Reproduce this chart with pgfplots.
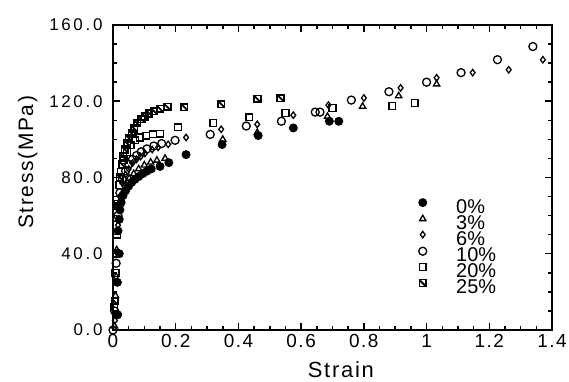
\documentclass[border=0pt]{standalone}
\usepackage{pgfplots}
\pgfplotsset{compat=1.18}
\usepackage{fontspec}
\setmainfont{Liberation Sans}
\newfontfamily\ytickfont[LetterSpace=16]{Liberation Sans}
\newfontfamily\xtickfont[LetterSpace=8]{Liberation Sans}
\newfontfamily\labfont[LetterSpace=8]{Liberation Sans}

\pgfdeclareplotmark{hsquare}{%
  \pgfpathrectangle{\pgfqpoint{-\pgfplotmarksize}{-\pgfplotmarksize}}{\pgfqpoint{2\pgfplotmarksize}{2\pgfplotmarksize}}%
  \pgfusepathqstroke
  \pgfsetlinewidth{1.8bp}%
  \pgfpathmoveto{\pgfqpoint{-0.8\pgfplotmarksize}{0.8\pgfplotmarksize}}%
  \pgfpathlineto{\pgfqpoint{0.8\pgfplotmarksize}{-0.8\pgfplotmarksize}}%
  \pgfusepathqstroke
}

\pgfplotstableread{
x y
0.015 8
0.014 25
0.020 40
0.016 52
0.020 58
0.022 63
0.026 67
0.032 70.5
0.040 73
0.050 75.5
0.060 77.5
0.070 79
0.082 80.5
0.095 82
0.108 83.3
0.122 84.5
0.150 85.8
0.178 87.8
0.233 92
0.348 97.3
0.463 102
0.575 106
0.690 109.5
0.720 109.5
}\dA

\pgfplotstableread{
x y
0.005 2
0.008 18
0.012 42
0.016 58
0.022 66
0.030 72
0.040 76.5
0.052 79.5
0.066 82
0.082 84.5
0.100 86.5
0.120 88
0.140 89
0.166 90
0.350 100
0.460 103.5
0.684 112
0.796 117.3
0.911 122.8
1.032 129
}\dB

\pgfplotstableread{
x y
0.006 5
0.010 28
0.016 55
0.022 70
0.030 77
0.040 81.5
0.050 84.5
0.062 87.5
0.075 89.5
0.088 91
0.102 92.6
0.125 94.7
0.144 95.8
0.176 97.4
0.233 101
0.345 105.3
0.460 107.9
0.575 112.7
0.687 118
0.800 121.7
0.917 127
1.032 132.3
1.147 135
1.262 136.5
1.371 141.8
}\dC

\pgfplotstableread{
x y
0.000 0
0.005 10
0.010 35
0.016 60
0.022 72
0.030 79
0.040 83.5
0.050 87
0.062 89.5
0.075 91.5
0.090 93.5
0.108 95
0.130 96.5
0.155 97.8
0.198 99.5
0.310 102.6
0.425 107
0.537 109.5
0.645 114.3
0.660 114.3
0.760 120.6
0.880 125
1.000 130
1.110 135
1.226 141.8
1.339 148.7
}\dD

\pgfplotstableread{
x y
0.004 12
0.008 30
0.012 50
0.016 66
0.020 76
0.026 83
0.034 89
0.044 93.5
0.056 97
0.070 99.5
0.086 101
0.105 102
0.128 102.6
0.150 103
0.208 106.3
0.320 108.5
0.435 111.6
0.550 113.8
0.700 116.4
0.891 117.5
0.962 119
}\dE

\pgfplotstableread{
x y
0.005 15
0.010 40
0.016 65
0.022 80
0.029 86.8
0.032 91
0.038 94.7
0.045 97.9
0.051 100.5
0.060 103
0.067 105.8
0.077 108.5
0.090 110.6
0.102 112
0.115 113.7
0.131 114.8
0.150 116
0.173 117
0.227 116.9
0.345 118.5
0.460 121.2
0.534 121.7
}\dF

\begin{document}
\begin{tikzpicture}
\useasboundingbox (0,0) rectangle (569bp,382bp);
\begin{axis}[
  at={(113bp,52bp)}, anchor=south west,
  scale only axis, width=439bp, height=305bp,
  xmin=0, xmax=1.4, ymin=0, ymax=160,
  clip=false,
  xtick={0,0.2,0.4,0.6,0.8,1,1.2,1.4},
  xticklabels={0,0.2,0.4,0.6,0.8,1,1.2,1.4},
  ytick={0,40,80,120,160},
  yticklabels={0.0,40.0,80.0,120.0,160.0},
  minor x tick num=3, minor y tick num=3,
  tick align=inside,
  major tick length=7bp, minor tick length=4bp,
  every tick/.style={black, line width=1.5bp},
  axis line style={line width=2bp},
  /pgf/number format/assume math mode=true,
  xticklabel style={font=\fontsize{19}{19}\xtickfont, yshift=-1bp},
  yticklabel style={font=\fontsize{17}{17}\ytickfont, xshift=-7bp},
  xlabel={Strain},
  ylabel={Stress(MPa)},
  xlabel style={font=\fontsize{22}{22}\labfont, inner sep=0pt, at={(axis description cs:0.519,-0.157)}, anchor=base},
  ylabel style={font=\fontsize{21}{21}\labfont, inner sep=0pt, at={(axis description cs:-0.182,0.55)}, anchor=base},
  every axis plot/.append style={only marks, black, line width=1.3bp},
  legend style={at={(rel axis cs:0.696,0.4308)}, anchor=north west, draw=none, fill=none,
    inner sep=0pt, row sep=0.4bp,
    font=\fontsize{20}{20}\selectfont,
    nodes={inner sep=0pt},
    /tikz/every odd column/.append style={column sep=29.5bp}},
  legend cell align=left,
  legend image post style={yshift=4.5bp},
]
\addplot[mark=*, mark size=3.8bp, mark options={fill=black}] table {\dA};
\addplot[mark=triangle, mark size=3.6bp] table {\dB};
\addplot[mark=diamond, mark size=3.2bp] table {\dC};
\addplot[mark=o, mark size=4bp] table {\dD};
\addplot[mark=square, mark size=3.4bp] table {\dE};
\addplot[mark=hsquare, mark size=3.4bp] table {\dF};
\legend{0\%,3\%,6\%,10\%,20\%,25\%}
\end{axis}
\end{tikzpicture}
\end{document}
